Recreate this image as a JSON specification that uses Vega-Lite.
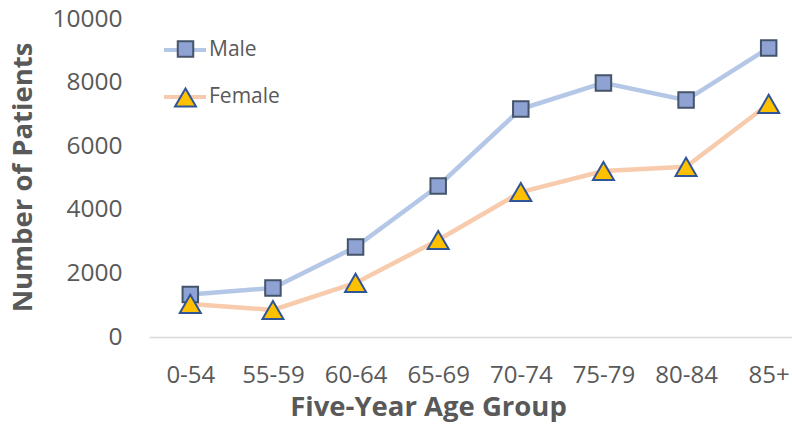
{
  "$schema": "https://vega.github.io/schema/vega-lite/v6.json",
  "width": 643,
  "height": 318,
  "autosize": {"type": "none"},
  "padding": {"left": 149, "top": 19, "right": 0, "bottom": 89},
  "background": "white",
  "config": {
    "view": {"stroke": null},
    "font": "Open Sans",
    "axis": {"labelFont": "Open Sans", "titleFont": "Open Sans", "labelColor": "#595959", "titleColor": "#595959", "grid": false, "ticks": false}
  },
  "data": {
    "values": [
      {"Age": "0-54", "Sex": "Male", "Patients": 1340},
      {"Age": "55-59", "Sex": "Male", "Patients": 1540},
      {"Age": "60-64", "Sex": "Male", "Patients": 2830},
      {"Age": "65-69", "Sex": "Male", "Patients": 4750},
      {"Age": "70-74", "Sex": "Male", "Patients": 7170},
      {"Age": "75-79", "Sex": "Male", "Patients": 7990},
      {"Age": "80-84", "Sex": "Male", "Patients": 7450},
      {"Age": "85+", "Sex": "Male", "Patients": 9090},
      {"Age": "0-54", "Sex": "Female", "Patients": 1040},
      {"Age": "55-59", "Sex": "Female", "Patients": 850},
      {"Age": "60-64", "Sex": "Female", "Patients": 1700},
      {"Age": "65-69", "Sex": "Female", "Patients": 3050},
      {"Age": "70-74", "Sex": "Female", "Patients": 4560},
      {"Age": "75-79", "Sex": "Female", "Patients": 5220},
      {"Age": "80-84", "Sex": "Female", "Patients": 5350},
      {"Age": "85+", "Sex": "Female", "Patients": 7330}
    ]
  },
  "encoding": {
    "x": {
      "field": "Age", "type": "ordinal", "sort": null,
      "scale": {"type": "point", "range": [0, 661], "padding": 0.5},
      "axis": {
        "title": "Five-Year Age Group", "titleFontSize": 27.5, "titleFontWeight": "bold",
        "titleX": 279, "titleY": 70, "titleBaseline": "middle", "titleAlign": "center",
        "labelFontSize": 24, "labelAngle": 0, "labelPadding": 26,
        "domainColor": "#D9D9D9", "domainWidth": 1.5
      }
    },
    "y": {
      "field": "Patients", "type": "quantitative",
      "scale": {"domain": [0, 10000], "nice": false},
      "axis": {
        "title": "Number of Patients", "titleFontSize": 27.5, "titleFontWeight": "bold",
        "titleX": -126, "titleY": 158, "titleBaseline": "middle", "titleAlign": "center", "titleAngle": -90,
        "values": [0, 2000, 4000, 6000, 8000, 10000], "format": "d",
        "labelFontSize": 24.5, "labelPadding": 27, "domain": false
      }
    }
  },
  "layer": [
    {
      "mark": {"type": "line", "strokeWidth": 4.5},
      "encoding": {
        "color": {
          "field": "Sex", "type": "nominal", "sort": ["Male", "Female"],
          "scale": {"range": ["#B4C7E7", "#F8CBAD"]},
          "legend": {
            "title": null, "orient": "none", "legendX": 13, "legendY": 8, "padding": 0,
            "symbolType": "stroke", "symbolSize": 1764, "symbolStrokeWidth": 4,
            "labelFont": "Open Sans", "labelFontSize": 21, "labelColor": "#595959", "labelOffset": 1, "rowPadding": 14
          }
        }
      }
    },
    {
      "mark": {"type": "point", "filled": true, "opacity": 1, "strokeWidth": 2},
      "encoding": {
        "fill": {
          "field": "Sex", "type": "nominal",
          "scale": {"domain": ["Male", "Female"], "range": ["#8FA2D4", "#FFC000"]},
          "legend": {
            "title": null, "orient": "none", "legendX": 25, "legendY": 20, "padding": 0,
            "symbolStrokeWidth": 2, "symbolOpacity": 1, "labelExpr": "''", "labelFontSize": 20, "rowPadding": 23
          }
        },
        "stroke": {
          "field": "Sex", "type": "nominal",
          "scale": {"domain": ["Male", "Female"], "range": ["#44546A", "#2F5597"]},
          "legend": {
            "title": null, "orient": "none", "legendX": 25, "legendY": 20, "padding": 0,
            "symbolStrokeWidth": 2, "symbolOpacity": 1, "labelExpr": "''", "labelFontSize": 20, "rowPadding": 23
          }
        },
        "shape": {
          "field": "Sex", "type": "nominal",
          "scale": {"domain": ["Male", "Female"], "range": ["square", "triangle-up"]},
          "legend": {
            "title": null, "orient": "none", "legendX": 25, "legendY": 20, "padding": 0,
            "symbolStrokeWidth": 2, "symbolOpacity": 1, "labelExpr": "''", "labelFontSize": 20, "rowPadding": 23
          }
        },
        "size": {
          "field": "Sex", "type": "nominal",
          "scale": {"domain": ["Male", "Female"], "range": [240, 441]},
          "legend": {
            "title": null, "orient": "none", "legendX": 25, "legendY": 20, "padding": 0,
            "symbolStrokeWidth": 2, "symbolOpacity": 1, "labelExpr": "''", "labelFontSize": 20, "rowPadding": 23
          }
        }
      }
    }
  ]
}
